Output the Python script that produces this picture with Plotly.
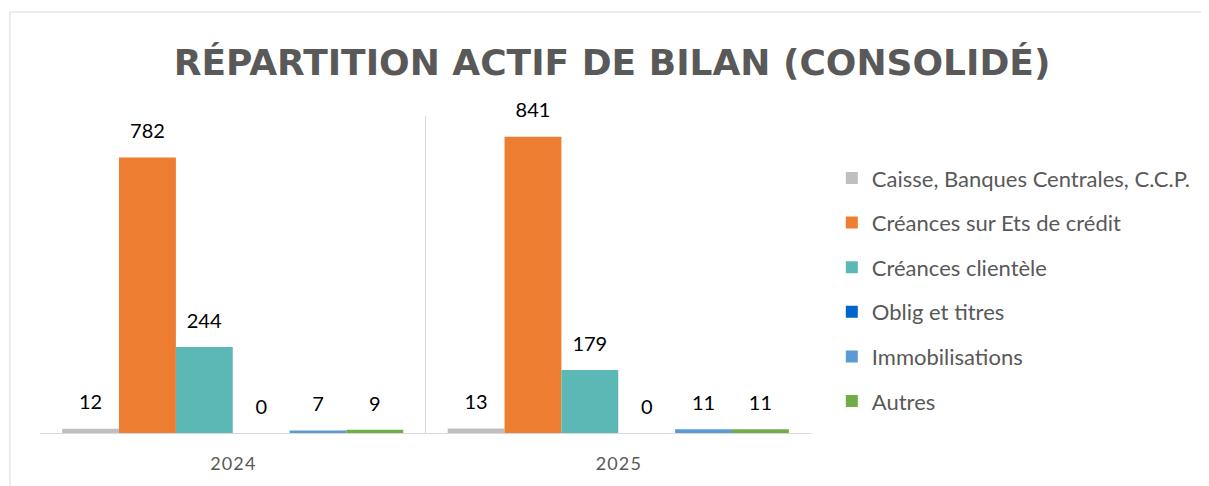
import plotly.graph_objects as go

categories = ["2024", "2025"]
tick_labels = ["2\u200a0\u200a2\u200a4", "2\u200a0\u200a2\u200a5"]
series_names = [
    "Caisse, Banques Centrales, C.C.P.",
    "Créances sur Ets de crédit",
    "Créances clientèle",
    "Oblig et titres",
    "Immobilisations",
    "Autres",
]
caisse = [12, 13]
creances_ets = [782, 841]
creances_clientele = [244, 179]
oblig_titres = [0, 0]
immobilisations = [7, 11]
autres = [9, 11]
colors = ["#BFBFBF", "#ED7D31", "#5CB8B4", "#0066CC", "#5B9BD5", "#70AD47"]

values = [caisse, creances_ets, creances_clientele, oblig_titres, immobilisations, autres]

fig = go.Figure()
for i, (name, vals, col) in enumerate(zip(series_names, values, colors)):
    fig.add_trace(go.Bar(
        x=categories, y=vals, name=name, marker_color=col,
        marker_line_width=0,
        text=vals,
        texttemplate='<span style="font-size:20px">%{y}</span><br> ',
        textposition="outside",
        textfont=dict(family="Lato", size=11, color="#000000"),
        cliponaxis=False, legendgroup=f"g{i}",
    ))

fig.update_layout(
    width=1201, height=478,
    barmode="group", bargap=0.115, bargroupgap=0,
    paper_bgcolor="white", plot_bgcolor="white",
    margin=dict(l=32, r=398, t=108, b=50),
    title=dict(text="<b>RÉPARTITION ACTIF DE BILAN (CONSOLIDÉ)</b>",
               x=0.503, xanchor="center", y=0.886, yanchor="middle",
               font=dict(family="DejaVu Sans", size=36, color="#595959")),
    legend=dict(x=1.027, xanchor="left", y=0.87, yanchor="top",
                font=dict(family="Lato", size=22, color="#595959"),
                tracegroupgap=13, traceorder="grouped", itemwidth=30),
    showlegend=True,
    xaxis=dict(type="category", tickvals=categories, ticktext=tick_labels,
               tickson="boundaries", showgrid=True, gridcolor="#D9D9D9", gridwidth=1,
               showline=True, linecolor="#D9D9D9", linewidth=1, ticks="",
               tickfont=dict(family="Lato", size=18, color="#595959"),
               ticklabelstandoff=14),
    yaxis=dict(range=[0, 900], showgrid=False, showticklabels=False, zeroline=False,
               showline=False),
    shapes=[
        dict(type="line", xref="paper", yref="paper", x0=-0.039, x1=1.6, y0=1.328, y1=1.328,
             line=dict(color="#D9D9D9", width=1)),
        dict(type="line", xref="paper", yref="paper", x0=-0.039, x1=-0.039, y0=1.328, y1=-0.2,
             line=dict(color="#D9D9D9", width=1)),
    ],
)

fig.write_html("out.html")
